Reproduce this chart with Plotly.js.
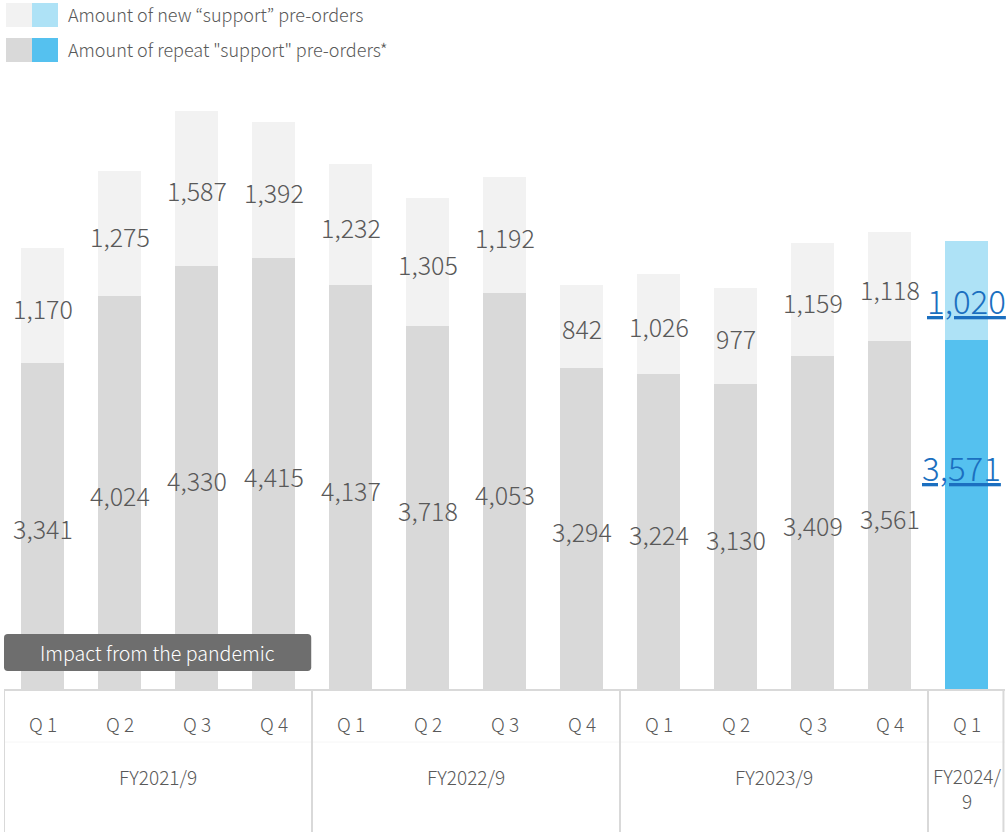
<!DOCTYPE html>
<html>
<head>
<meta charset="utf-8">
<script src="https://cdn.plot.ly/plotly-3.0.1.min.js"></script>
<style>html,body{margin:0;padding:0;background:#fff;}#chart{width:1007px;height:832px;}</style>
</head>
<body>
<div id="chart"></div>
<script>
// ---- data ----
var categories = ["FY2021/9 Q1","FY2021/9 Q2","FY2021/9 Q3","FY2021/9 Q4",
                  "FY2022/9 Q1","FY2022/9 Q2","FY2022/9 Q3","FY2022/9 Q4",
                  "FY2023/9 Q1","FY2023/9 Q2","FY2023/9 Q3","FY2023/9 Q4",
                  "FY2024/9 Q1"];
var quarterLabels = ["Q 1","Q 2","Q 3","Q 4","Q 1","Q 2","Q 3","Q 4","Q 1","Q 2","Q 3","Q 4","Q 1"];
var fiscalYears = ["FY2021/9","FY2022/9","FY2023/9","FY2024/<br>9"];
var fiscalYearSpans = [[0,3],[4,7],[8,11],[12,12]];
var repeatOrders = [3341,4024,4330,4415,4137,3718,4053,3294,3224,3130,3409,3561,3571];
var newOrders    = [1170,1275,1587,1392,1232,1305,1192,842,1026,977,1159,1118,1020];
var seriesNames = ["Amount of new \u201csupport\u201d pre-orders","Amount of repeat \"support\" pre-orders*"];
var highlightIndex = 12;
var noteText = "Impact from the pandemic";

// ---- styles ----
var FONT = "Noto Sans CJK JP, Noto Sans, sans-serif";
var W = 300;
var GREY_TXT = "#595959";
var C_NEW = "#f2f2f2", C_REP = "#d9d9d9", C_NEW_HL = "#aee2f6", C_REP_HL = "#55c1ef";
var BLUE_TXT = "#1b6fc0";
var LINE = "#d9d9d9";

function fmt(v){ return v.toLocaleString("en-US"); }

var repColors = categories.map(function(c,i){ return i===highlightIndex ? C_REP_HL : C_REP; });
var newColors = categories.map(function(c,i){ return i===highlightIndex ? C_NEW_HL : C_NEW; });

var traces = [
  {type:"bar", x:categories, y:repeatOrders, name:seriesNames[1], marker:{color:repColors}, hoverinfo:"skip"},
  {type:"bar", x:categories, y:newOrders, name:seriesNames[0], marker:{color:newColors}, hoverinfo:"skip"}
];

var annotations = [];
var shapes = [];

// value labels
categories.forEach(function(c,i){
  var r = repeatOrders[i], n = newOrders[i];
  if(i===highlightIndex){
    annotations.push({x:c, y:r/2, xref:"x", yref:"y", text:"<u>"+fmt(r)+"</u>", showarrow:false,
      xshift:-5, yshift:48, yanchor:"middle", font:{family:FONT, size:33, color:BLUE_TXT, weight:W}});
    annotations.push({x:c, y:r+n/2, xref:"x", yref:"y", text:"<u>"+fmt(n)+"</u>", showarrow:false,
      yshift:-10, yanchor:"middle", font:{family:FONT, size:33, color:BLUE_TXT, weight:W}});
  } else {
    annotations.push({x:c, y:r/2, xref:"x", yref:"y", text:fmt(r), showarrow:false,
      yshift:-2, yanchor:"middle", font:{family:FONT, size:25, color:GREY_TXT, weight:W}});
    annotations.push({x:c, y:r+n/2, xref:"x", yref:"y", text:fmt(n), showarrow:false,
      yshift:-2, yanchor:"middle", font:{family:FONT, size:25, color:GREY_TXT, weight:W}});
  }
  // quarter label
  annotations.push({x:c, y:-0.0555, xref:"x", yref:"paper", text:quarterLabels[i], showarrow:false,
    yanchor:"middle", font:{family:FONT, size:19, color:GREY_TXT, weight:W}});
});

// fiscal year labels
fiscalYears.forEach(function(fy,k){
  var s = fiscalYearSpans[k];
  var nLines = fy.split("<br>").length;
  annotations.push({x:(s[0]+s[1])/2, y:-0.1426, xref:"x", yref:"paper", text:fy, showarrow:false,
    yshift:-11.5*(nLines-1), yanchor:"middle", font:{family:FONT, size:19, color:GREY_TXT, weight:W}});
});

// table lines
var PB = -0.24;
shapes.push({type:"line", xref:"x", yref:"paper", x0:-0.5, x1:12.5, y0:0, y1:0, line:{color:LINE, width:2}});
shapes.push({type:"line", xref:"x", yref:"paper", x0:-0.5, x1:12.5, y0:-0.0853, y1:-0.0853, line:{color:"#f6f6f6", width:1}});
[-0.5,3.5,7.5,11.5,12.48].forEach(function(xv){
  shapes.push({type:"line", xref:"x", yref:"paper", x0:xv, x1:xv, y0:0, y1:PB, line:{color:LINE, width:2}});
});

// pandemic note box
var bx0=-0.5, bx1=3.49, by0=0.0311, by1=0.0918, rx=0.05, ry=0.006;
shapes.push({type:"path", xref:"x", yref:"paper", fillcolor:"#6e6e6e", line:{width:0},
  path:"M"+(bx0+rx)+","+by1+" L"+(bx1-rx)+","+by1+" Q"+bx1+","+by1+" "+bx1+","+(by1-ry)+
       " L"+bx1+","+(by0+ry)+" Q"+bx1+","+by0+" "+(bx1-rx)+","+by0+
       " L"+(bx0+rx)+","+by0+" Q"+bx0+","+by0+" "+bx0+","+(by0+ry)+
       " L"+bx0+","+(by1-ry)+" Q"+bx0+","+by1+" "+(bx0+rx)+","+by1+" Z"});
annotations.push({x:(bx0+bx1)/2, y:(by0+by1)/2, xref:"x", yref:"paper", text:noteText, showarrow:false,
  yanchor:"middle", font:{family:FONT, size:19.6, color:"#ffffff", weight:W}});

// legend (manual)
var legendRows = [
  {name:seriesNames[0], c1:C_NEW, c2:C_NEW_HL, y0:3, y1:27},
  {name:seriesNames[1], c1:C_REP, c2:C_REP_HL, y0:38, y1:62}
];
legendRows.forEach(function(L){
  // pixel -> paper: plot top at 80px, height 610px
  var p0 = 1 + (80-L.y1)/610, p1 = 1 + (80-L.y0)/610;
  shapes.push({type:"rect", xref:"paper", yref:"paper", x0:2/1001, x1:28/1001, y0:p0, y1:p1, fillcolor:L.c1, line:{width:0}});
  shapes.push({type:"rect", xref:"paper", yref:"paper", x0:28/1001, x1:54/1001, y0:p0, y1:p1, fillcolor:L.c2, line:{width:0}});
  annotations.push({x:62/1001, y:(p0+p1)/2, xref:"paper", yref:"paper", text:L.name, showarrow:false,
    xanchor:"left", yanchor:"middle", yshift:1, font:{family:FONT, size:18, color:GREY_TXT, weight:W}});
});

var layout = {
  width:1007, height:832,
  margin:{l:4, r:2, t:80, b:142},
  paper_bgcolor:"#ffffff", plot_bgcolor:"#ffffff",
  barmode:"stack", bargap:0.44,
  showlegend:false,
  xaxis:{type:"category", range:[-0.5,12.5], showticklabels:false, showgrid:false, zeroline:false, showline:false, ticks:"", fixedrange:true},
  yaxis:{range:[0,6231], showticklabels:false, showgrid:false, zeroline:false, showline:false, ticks:"", fixedrange:true},
  annotations:annotations,
  shapes:shapes,
  font:{family:FONT, color:GREY_TXT}
};

Plotly.newPlot("chart", traces, layout, {staticPlot:true, displayModeBar:false});
</script>
</body>
</html>
